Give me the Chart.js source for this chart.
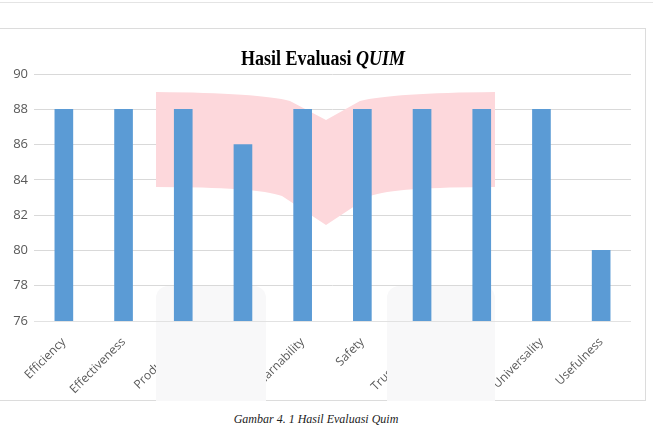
<!DOCTYPE html>
<html>
<head>
<meta charset="utf-8">
<script src="https://cdn.jsdelivr.net/npm/chart.js@4/dist/chart.umd.min.js"></script>
<style>
  body { margin: 0; background: #fff; width: 653px; height: 429px; position: relative; overflow: hidden; }
  #topline { position: absolute; left: 0; top: 2px; width: 653px; height: 1px; background: #e4e4e4; }
  #box { position: absolute; left: -1px; top: 28px; width: 647px; height: 373px; border: 1px solid #dcdcdc; box-sizing: border-box; }
  #box canvas { position: absolute; left: 0; top: 0; }
  #title { position: absolute; left: 0; width: 646px; top: 46px; text-align: center; transform: scaleY(1.2); transform-origin: 50% 0;
           font-family: "Liberation Serif", "Times New Roman", serif; font-weight: bold; font-size: 18px; color: #000; }
  #caption { position: absolute; left: 0; width: 632px; top: 412px; text-align: center;
             font-family: "Liberation Serif", "Times New Roman", serif; font-style: italic; font-size: 12px; color: #222; }
</style>
</head>
<body>
<div id="topline"></div>
<div id="box">
  <canvas id="chart" width="647" height="372"></canvas>
</div>
<div id="title">Hasil Evaluasi <i>QUIM</i></div>
<div id="caption">Gambar 4. 1 Hasil Evaluasi Quim</div>
<script>
const factors = ['Efficiency', 'Effectiveness', 'Productivity', 'Satisfaction', 'Learnability',
                 'Safety', 'Trustfulness', 'Accessibility', 'Universality', 'Usefulness'];
const scores = [88, 88, 88, 86, 88, 88, 88, 88, 88, 80];
const yMin = 76, yMax = 90, yStep = 2;

// watermark overlay seen on the scanned page (book shape + two grey boxes)
const overlay = {
  id: 'overlay',
  beforeDatasetsDraw(chart) {
    const c = chart.ctx;
    const oy = 28;
    c.save();
    c.fillStyle = '#fdd8dc';
    c.beginPath();
    c.moveTo(156, 91 - oy);
    c.quadraticCurveTo(260, 92 - oy, 290, 100 - oy);
    c.lineTo(326, 119 - oy);
    c.lineTo(360, 100 - oy);
    c.quadraticCurveTo(392, 92 - oy, 495, 91 - oy);
    c.lineTo(495, 186 - oy);
    c.quadraticCurveTo(395, 186 - oy, 370, 195 - oy);
    c.lineTo(326, 224 - oy);
    c.lineTo(282, 195 - oy);
    c.quadraticCurveTo(257, 186 - oy, 156, 186 - oy);
    c.closePath();
    c.fill();
    c.fillStyle = '#f8f8f9';
    [[156, 266], [387, 495]].forEach(([a, b]) => {
      c.beginPath();
      c.roundRect(a, 285 - oy, b - a, 140, [12, 12, 0, 0]);
      c.fill();
    });
    const y0 = chart.scales.y.getPixelForValue(yMin);
    c.strokeStyle = '#e2e2e2';
    c.lineWidth = 1;
    c.beginPath();
    c.moveTo(chart.chartArea.left, Math.round(y0) + 0.5);
    c.lineTo(chart.chartArea.right, Math.round(y0) + 0.5);
    c.stroke();
    c.restore();
  }
};

new Chart(document.getElementById('chart'), {
  type: 'bar',
  data: {
    labels: factors,
    datasets: [{
      data: scores,
      backgroundColor: '#5b9bd5',
      barThickness: 18
    }]
  },
  options: {
    responsive: false,
    animation: false,
    layout: { padding: { top: 45, right: 16, left: 0, bottom: 0 } },
    plugins: { legend: { display: false }, title: { display: false }, tooltip: { enabled: false } },
    scales: {
      x: {
        grid: { display: false, drawTicks: false },
        border: { display: false },
        ticks: {
          minRotation: 45, maxRotation: 45, padding: 14,
          color: '#595959', font: { family: 'Open Sans', size: 12 }
        },
        afterFit(s) { s.height = 80; }
      },
      y: {
        min: yMin, max: yMax,
        grid: { color: '#d9d9d9', drawTicks: false },
        border: { display: false },
        ticks: {
          stepSize: yStep, padding: 6,
          color: '#595959', font: { family: 'Open Sans', size: 13 }
        },
        afterFit(s) { s.width = 34; }
      }
    }
  },
  plugins: [overlay]
});
</script>
</body>
</html>
